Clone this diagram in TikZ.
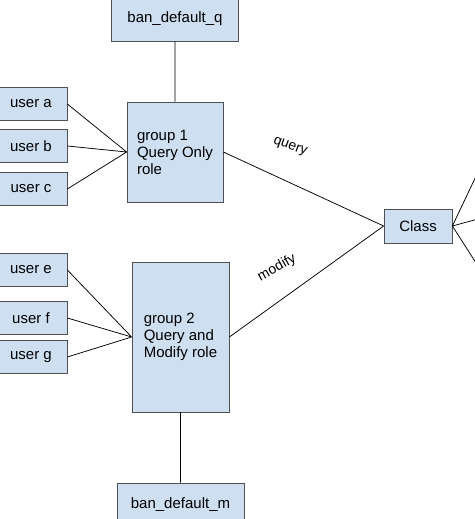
\documentclass[tikz,border=0pt]{standalone}
\usepackage{fontspec}
\setmainfont{Liberation Sans}
\usepackage{tikz}
\usetikzlibrary{positioning}
\definecolor{boxblue}{RGB}{207,223,242}
\definecolor{boxline}{RGB}{80,80,80}

\begin{document}
\begin{tikzpicture}[x=1pt, y=-1pt, line width=0.75pt,
  box/.style={rectangle, draw=boxline, fill=boxblue, inner sep=0pt,
    font=\fontsize{15}{17}\selectfont},
  user node/.style={box, minimum width=72pt, minimum height=33pt},
  group node/.style={box, align=left, minimum width=96pt, minimum height=100pt},
  ban node/.style={box, minimum width=127pt, minimum height=44pt}]

\useasboundingbox (0,0) rectangle (474,519);

\node[ban node] (banq) at (175,19) {ban\_default\_q};
\node[group node] (g1) at (175,152) {group 1\\Query Only\\role};
\node[user node] (ua) at (31,104) {user a};
\node[user node] (ub) at (31,146) {user b};
\node[user node] (uc) at (31,189) {user c};

\node[group node, minimum width=97pt, minimum height=150pt] (g2) at (180.5,337) {group 2\\Query and\\Modify role};
\node[user node] (ue) at (31,270) {user e};
\node[user node] (uf) at (31,318) {user f};
\node[user node] (ug) at (31,357) {user g};
\node[ban node] (banm) at (180.5,505) {ban\_default\_m};

\node[box, minimum width=68pt, minimum height=34pt] (cls) at (418,226) {Class};

\coordinate (out1) at (478,172);
\coordinate (out2) at (478,219);
\coordinate (out3) at (478,266);

\path[draw, black]
(banq) -- (g1)
(ua.east) -- (g1.west)
(ub.east) -- (g1.west)
(uc.east) -- (g1.west)
(ue.east) -- (g2.west)
(uf.east) -- (g2.west)
(ug.east) -- (g2.west)
(g2.south -| banm) -- (banm)
(g1.east) -- (cls.west)
(g2.east) -- (cls.west)
(cls.east) -- (out1)
(cls.east) -- (out2)
(cls.east) -- (out3)
;

\node[font=\fontsize{14}{16}\selectfont, rotate=-20] (lq) at (290,147) {query};
\node[font=\fontsize{14}{16}\selectfont, rotate=29] (lm) at (277,268) {modify};

\end{tikzpicture}
\end{document}
